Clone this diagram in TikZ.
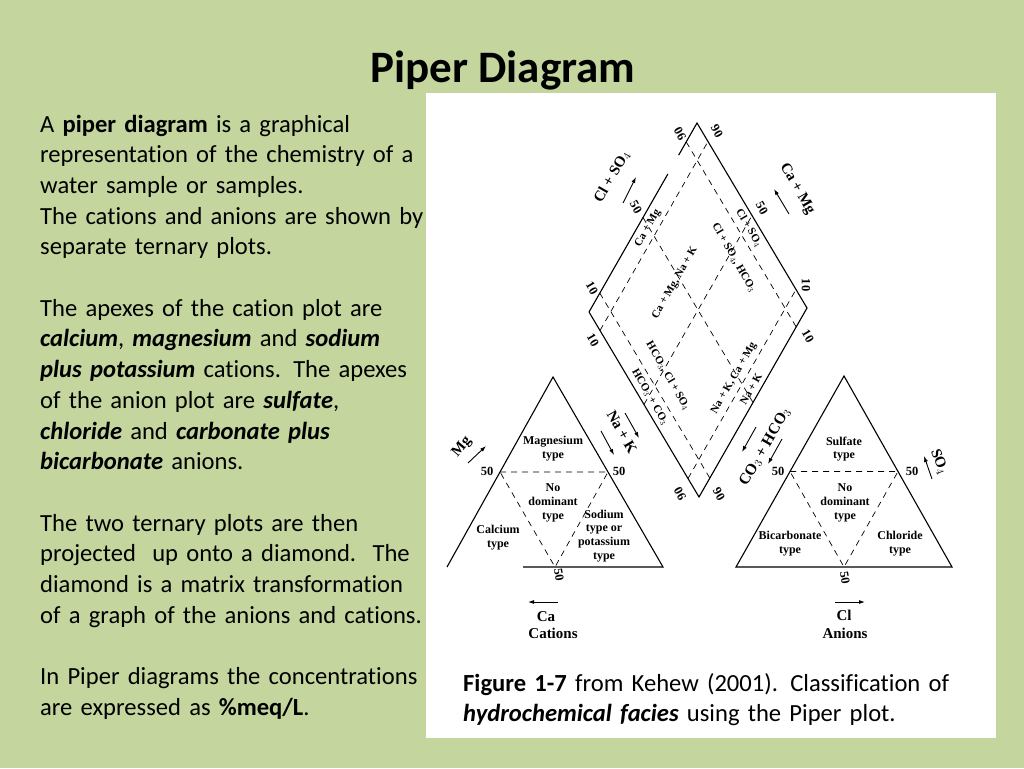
\documentclass[tikz,border=0pt]{standalone}
\usepackage{fontspec}
\setmainfont{Carlito}[Ligatures=CommonOff]
\newfontfamily\figfont{Liberation Serif}
\usetikzlibrary{calc,arrows.meta}
\definecolor{slidegreen}{RGB}{196,214,158}

\tikzset{
  slidetext/.style={font=\fontsize{24.6}{30.7}\selectfont, text width=560pt, align=left, anchor=base west, inner sep=0pt},
  edge/.style={line width=1.1pt},
  guide/.style={line width=0.7pt, dash pattern=on 6pt off 5pt},
  region/.style={font=\figfont\bfseries\fontsize{12}{13.8}\selectfont, align=center, inner sep=0pt},
  tick/.style={font=\figfont\bfseries\fontsize{12.5}{13}\selectfont, inner sep=0pt},
  inlbl/.style={font=\figfont\bfseries\fontsize{11}{12}\selectfont, inner sep=0pt},
  axlbl/.style={font=\figfont\bfseries\fontsize{15}{16}\selectfont, inner sep=0pt},
  dir/.style={-{Latex[length=6pt,width=4pt]}, line width=0.9pt},
}

\begin{document}
\begin{tikzpicture}[x=1pt, y=-1pt]
\useasboundingbox (0,0) rectangle (1024,768);
\fill[slidegreen] (0,0) rectangle (1024,768);
\fill[white] (426,93) rectangle (996,738);

% title and text
\node[font=\bfseries\fontsize{45}{50}\selectfont, anchor=base, inner sep=0pt] (title) at (503,82) {Piper Diagram};
\node[slidetext] (intro) at (40,132) {%
A \textbf{piper diagram} is a graphical\\
representation of the chemistry of a\\
water sample or samples.\\
The cations and anions are shown by\\
separate ternary plots.\\[30.7pt]
The apexes of the cation plot are\\
\textbf{\textit{calcium}}, \textbf{\textit{magnesium}} and \textbf{\textit{sodium}}\\
\textbf{\textit{plus potassium}} cations. The apexes\\
of the anion plot are \textbf{\textit{sulfate}},\\
\textbf{\textit{chloride}} and \textbf{\textit{carbonate plus}}\\
\textbf{\textit{bicarbonate}} anions.\\[30.7pt]
The two ternary plots are then\\
projected\ \ up onto a diamond.\ \ The\\
diamond is a matrix transformation\\
of a graph of the anions and cations.\\[30.7pt]
In Piper diagrams the concentrations\\
are expressed as \textbf{\%meq/L}.};
\node[slidetext] (caption) at (463,691) {%
\textbf{Figure 1-7} from Kehew (2001). Classification of\\
\textbf{\textit{hydrochemical facies}} using the Piper plot.};

% diamond
\coordinate (dL) at (589,312); \coordinate (dT) at (697,123);
\coordinate (dB) at (699,497); \coordinate (dR) at ($(dT)+(dB)-(dL)$);
\draw[edge] (dL)--($(dL)!0.73!(dT)$);
\draw[edge] ($(dL)!0.83!(dT)$)--(dT)--(dR)--(dB)--(dL);
\foreach \a in {0.1,0.5,0.9}{
  \draw[guide] ($(dL)!\a!(dT)$)--($(dB)!\a!(dR)$);
  \draw[guide] ($(dL)!\a!(dB)$)--($(dT)!\a!(dR)$);
}
\node[tick, rotate=120] (d90a) at (680,134) {90};
\node[tick, rotate=-60] (d90b) at (717,131) {90};
\node[tick, rotate=-60] (d50a) at (636,207) {50};
\node[tick, rotate=-60] (d50b) at (762,208) {50};
\node[tick, rotate=-60] (d10a) at (592,288) {10};
\node[tick, rotate=-60] (d10b) at (593,340) {10};
\node[tick, rotate=-90] (d10c) at (806,285) {10};
\node[tick, rotate=-60] (d10d) at (808,336) {10};
\node[tick, rotate=120] (d90c) at (680,494) {90};
\node[tick, rotate=-60] (d90d) at (719,494) {90};
\node[inlbl, rotate=60] (dCaMg) at (648,228) {Ca + Mg};
\node[inlbl, rotate=60] (dCaNa) at (675,283) {Ca + Mg, Na + K};
\node[inlbl, rotate=-60] (dClHC) at (734,258) {Cl + SO$_4$, HCO$_3$};
\node[inlbl, rotate=-60] (dClSO) at (749,228) {Cl + SO$_4$};
\node[inlbl, rotate=-60] (dHCCl) at (668,376) {HCO$_3$, Cl + SO$_4$};
\node[inlbl, rotate=-60] (dHCCO) at (650,397) {HCO$_3$ + CO$_3$};
\node[inlbl, rotate=60] (dNaCa) at (734,378) {Na + K, Ca + Mg};
\node[inlbl, rotate=60] (dNaK) at (751,389) {Na + K};
\node[axlbl, rotate=60] (aClSO) at (612,177) {Cl + SO$_4$};
\draw[dir] (623,203)--(636,177);
\node[axlbl, rotate=-60] (aCaMg) at (797,189) {Ca + Mg};
\draw[dir] (789,214)--(774,189);
\node[axlbl, rotate=-60] (aNaK) at (622,432) {Na + K};
\draw[dir] (601,431)--(614,455);
\draw[dir] (625,413)--(639,438);
\node[axlbl, rotate=60, font=\figfont\bfseries\fontsize{15.5}{17}\selectfont] (aCOHC) at (765,447) {CO$_3$ + HCO$_3$};
\draw[dir] (756,427)--(742,452);
\draw[dir] (782,439)--(768,464);

% cation triangle
\coordinate (cT) at (553,377); \coordinate (cL) at (447,567); \coordinate (cR) at (663,567);
\draw[edge] (cL)--(cT)--(cR)--(523,567);
\draw[guide] ($(cL)!0.5!(cT)$)--($(cR)!0.5!(cT)$)--($(cL)!0.5!(cR)$)--cycle;
\node[region] (cMg) at (553,449) {Magnesium\\type};
\node[region] (cNo) at (553,503) {No\\dominant\\type};
\node[region] (cCa) at (498,538) {Calcium\\type};
\node[region] (cNa) at (604,536) {Sodium\\type or\\potassium\\type};
\node[tick] (c50a) at (487,471) {50};
\node[tick] (c50b) at (619,471) {50};
\node[tick, rotate=-80] (c50c) at (559,575) {50};
\node[axlbl, rotate=50] (cMgax) at (462,447) {Mg};
\draw[dir] (468,463)--(486,446);
\draw[dir] (558,602)--(528,602);
\node[axlbl] (cCaax) at (546,617) {Ca};
\node[axlbl] (cations) at (553,633) {Cations};

% anion triangle
\coordinate (aT) at (844,376); \coordinate (aL) at (736,567); \coordinate (aR) at (952,567);
\draw[edge] (aL)--(aT)--(aR)--cycle;
\draw[guide] ($(aL)!0.5!(aT)$)--($(aR)!0.5!(aT)$)--($(aL)!0.5!(aR)$)--cycle;
\node[region] (aSO) at (844,449) {Sulfate\\type};
\node[region] (aNo) at (845,503) {No\\dominant\\type};
\node[region] (aBi) at (790,544) {Bicarbonate\\type};
\node[region] (aCl) at (900,544) {Chloride\\type};
\node[tick] (a50a) at (778,471) {50};
\node[tick] (a50b) at (912,471) {50};
\node[tick, rotate=-80] (a50c) at (845,578) {50};
\node[axlbl, rotate=-70] (aSOax) at (939,462) {SO$_4$};
\draw[dir] (932,479)--(924,456);
\draw[dir] (835,602)--(865,602);
\node[axlbl] (aClax) at (844,615) {Cl};
\node[axlbl] (anions) at (845,633) {Anions};
\end{tikzpicture}
\end{document}
